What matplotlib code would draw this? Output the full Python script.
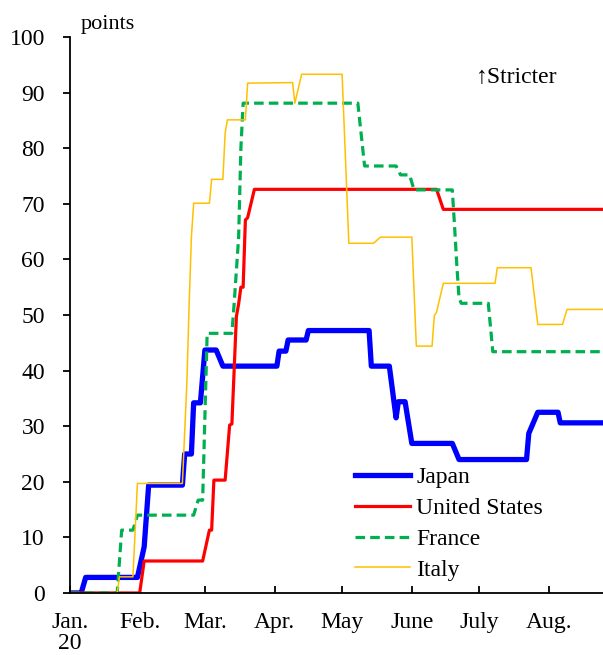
import pandas as pd
import matplotlib
matplotlib.use("Agg")
import matplotlib.pyplot as plt
import matplotlib.dates as mdates

plt.rcParams['font.family'] = ['Liberation Serif', 'DejaVu Serif']

# stringency index, breakpoints (points)
japan_dates = ["2020-01-01", "2020-01-06", "2020-01-08", "2020-01-31", "2020-02-03", "2020-02-05",
               "2020-02-20", "2020-02-21", "2020-02-24", "2020-02-25", "2020-02-28", "2020-03-01",
               "2020-03-06", "2020-03-09", "2020-04-02", "2020-04-03", "2020-04-06", "2020-04-07",
               "2020-04-15", "2020-04-16", "2020-05-13", "2020-05-14", "2020-05-22", "2020-05-25",
               "2020-05-26", "2020-05-29", "2020-06-01", "2020-06-19", "2020-06-22", "2020-07-22",
               "2020-07-23", "2020-07-27", "2020-08-05", "2020-08-06", "2020-08-25"]
japan_vals = [0, 0, 2.8, 2.8, 8.3, 19.4,
              19.4, 25.0, 25.0, 34.2, 34.2, 43.7,
              43.7, 40.8, 40.8, 43.5, 43.5, 45.5,
              45.5, 47.2, 47.2, 40.8, 40.8, 31.5,
              34.4, 34.4, 26.9, 26.9, 24.0, 24.0,
              28.7, 32.5, 32.5, 30.6, 30.6]

us_dates = ["2020-01-01", "2020-02-01", "2020-02-03", "2020-02-29", "2020-03-03", "2020-03-04",
            "2020-03-05", "2020-03-10", "2020-03-12", "2020-03-13", "2020-03-15", "2020-03-16",
            "2020-03-17", "2020-03-18", "2020-03-19", "2020-03-20", "2020-03-23", "2020-06-12",
            "2020-06-15", "2020-08-25"]
us_vals = [0, 0, 5.75, 5.75, 11.3, 11.3,
           20.3, 20.3, 30.2, 30.4, 49.7, 52.0,
           55.0, 55.0, 67.1, 67.5, 72.6, 72.6,
           69.0, 69.0]

france_dates = ["2020-01-01", "2020-01-22", "2020-01-24", "2020-01-29", "2020-01-31", "2020-02-25",
                "2020-02-27", "2020-02-29", "2020-03-02", "2020-03-13", "2020-03-14", "2020-03-15",
                "2020-03-16", "2020-03-17", "2020-03-18", "2020-05-08", "2020-05-11", "2020-05-25",
                "2020-05-27", "2020-05-31", "2020-06-02", "2020-06-19", "2020-06-20", "2020-06-21",
                "2020-06-22", "2020-06-23", "2020-07-05", "2020-07-07", "2020-08-25"]
france_vals = [0, 0, 11.3, 11.3, 14.0, 14.0,
               16.7, 16.7, 46.7, 46.7, 52.0, 58.0,
               64.0, 80.0, 88.1, 88.1, 76.8, 76.8,
               75.2, 75.2, 72.5, 72.5, 66.0, 59.0,
               53.0, 52.1, 52.1, 43.4, 43.4]

italy_dates = ["2020-01-01", "2020-01-22", "2020-01-23", "2020-01-29", "2020-01-31", "2020-02-20",
               "2020-02-22", "2020-02-23", "2020-02-24", "2020-02-25", "2020-03-03", "2020-03-04",
               "2020-03-09", "2020-03-10", "2020-03-11", "2020-03-19", "2020-03-20", "2020-04-09",
               "2020-04-10", "2020-04-13", "2020-05-01", "2020-05-04", "2020-05-15", "2020-05-18",
               "2020-06-01", "2020-06-03", "2020-06-10", "2020-06-11", "2020-06-12", "2020-06-15",
               "2020-07-08", "2020-07-09", "2020-07-24", "2020-07-27", "2020-08-07", "2020-08-09",
               "2020-08-25"]
italy_vals = [0, 0, 2.9, 2.9, 19.7, 19.7,
              38.0, 52.0, 64.0, 70.1, 70.1, 74.4,
              74.4, 82.7, 85.1, 85.1, 91.7, 91.8,
              88.1, 93.3, 93.3, 62.9, 62.9, 64.0,
              64.0, 44.4, 44.4, 49.9, 50.5, 55.7,
              55.7, 58.5, 58.5, 48.3, 48.3, 51.0,
              51.0]

month_ticks = ["2020-01-01", "2020-02-01", "2020-03-01", "2020-04-01", "2020-05-01",
               "2020-06-01", "2020-07-01", "2020-08-01"]
month_labels = ["Jan.\n20", "Feb.", "Mar.", "Apr.", "May", "June", "July", "Aug."]

fig = plt.figure(figsize=(6.03, 6.55), dpi=100)
ax = fig.add_axes([0.116, 0.0947, 0.884, 0.8488])

ax.plot(pd.to_datetime(japan_dates), japan_vals, color="#0000FF", lw=3.8, label="Japan")
ax.plot(pd.to_datetime(us_dates), us_vals, color="#FF0000", lw=2.3, label="United States")
ax.plot(pd.to_datetime(france_dates), france_vals, color="#00B050", lw=2.3,
        linestyle=(0, (3, 1.6)), label="France")
ax.plot(pd.to_datetime(italy_dates), italy_vals, color="#FFC000", lw=1.1, label="Italy")

ax.set_xlim(pd.Timestamp("2020-01-01"), pd.Timestamp("2020-08-25"))
ax.set_ylim(0, 100)
ax.set_yticks(range(0, 101, 10))
ax.set_xticks(pd.to_datetime(month_ticks))
ax.set_xticklabels(month_labels, va="top", ha="center", linespacing=1.0)

for s in ["top", "right"]:
    ax.spines[s].set_visible(False)
for s in ["left", "bottom"]:
    ax.spines[s].set_linewidth(1.3)

ax.tick_params(axis="y", direction="out", length=5, width=1.3, labelsize=17, pad=13)
ax.tick_params(axis="x", direction="in", length=5, width=1.3, labelsize=17, pad=14)

fig.text(0.133, 0.963, "points", fontsize=16, ha="left", va="center")
ax.text(0.762, 0.928, "↑Stricter", fontsize=17, transform=ax.transAxes, ha="left", va="center")

ax.legend(loc="lower left", bbox_to_anchor=(0.517, 0.005), frameon=False, fontsize=17,
          handlelength=2.35, handletextpad=0.25, labelspacing=0.4, borderaxespad=0)

fig.savefig("out.png", dpi=100)
